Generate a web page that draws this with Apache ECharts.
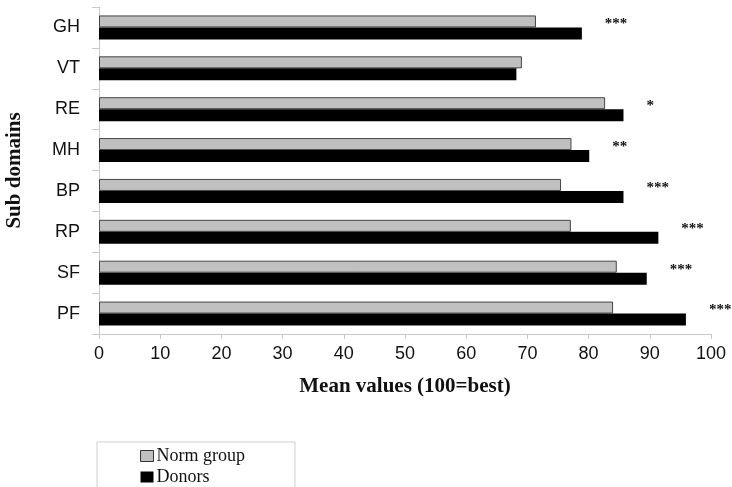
<!DOCTYPE html>
<html>
<head>
<meta charset="utf-8">
<script src="https://cdn.jsdelivr.net/npm/echarts@6/dist/echarts.min.js"></script>
<style>
  html, body { margin: 0; padding: 0; background: #fff; }
  #chart { width: 732px; height: 487px; }
</style>
</head>
<body>
<div id="chart"></div>
<script>
// SF-36 sub domains, top to bottom
const domains = ['GH', 'VT', 'RE', 'MH', 'BP', 'RP', 'SF', 'PF'];
const normGroup = [71.4, 69.1, 82.7, 77.2, 75.5, 77.1, 84.6, 84.0];
const donors    = [78.9, 68.2, 85.7, 80.1, 85.7, 91.4, 89.5, 95.9];
// significance markers shown after the donor bars
const significance = ['***', '', '*', '**', '***', '***', '***', '***'];
const xTicks = [0, 10, 20, 30, 40, 50, 60, 70, 80, 90, 100];

const chart = echarts.init(document.getElementById('chart'), null, { renderer: 'canvas' });

const axisGray = '#c8c8c8';

chart.setOption({
  backgroundColor: '#fff',
  animation: false,
  grid: { left: 99, right: 21, top: 7, bottom: 153, containLabel: false, outerBoundsMode: 'none' },
  legend: {
    orient: 'vertical',
    left: 97,
    top: 442,
    height: 60,
    padding: [5, 50, 8, 43],
    itemGap: 3,
    itemWidth: 13,
    itemHeight: 11,
    borderColor: '#cfcfcf',
    borderWidth: 1,
    textStyle: { fontFamily: 'Liberation Serif', fontSize: 18, color: '#111', padding: [0, 0, 0, -2] },
    data: [
      { name: 'Norm group', icon: 'rect', itemStyle: { color: '#c0c0c0', borderColor: '#333', borderWidth: 1 } },
      { name: 'Donors', icon: 'rect', itemStyle: { color: '#000' } }
    ]
  },
  xAxis: {
    type: 'value',
    min: xTicks[0],
    max: xTicks[xTicks.length - 1],
    interval: xTicks[1] - xTicks[0],
    name: 'Mean values (100=best)',
    nameLocation: 'middle',
    nameGap: 42,
    nameTextStyle: { fontFamily: 'Liberation Serif', fontWeight: 'bold', fontSize: 21, color: '#111' },
    axisLine: { show: true, lineStyle: { color: axisGray, width: 1 } },
    axisTick: { show: true, length: 5, lineStyle: { color: axisGray } },
    axisLabel: { fontFamily: 'Liberation Sans', fontSize: 18, color: '#111', margin: 11 },
    splitLine: { show: false }
  },
  yAxis: {
    type: 'category',
    data: domains,
    inverse: true,
    name: 'Sub domains',
    nameLocation: 'middle',
    nameGap: 74,
    nameRotate: 90,
    nameTextStyle: { fontFamily: 'Liberation Serif', fontWeight: 'bold', fontSize: 21, color: '#111' },
    axisLine: { show: true, lineStyle: { color: axisGray, width: 1 } },
    axisTick: { show: true, length: 7, alignWithLabel: false, lineStyle: { color: axisGray } },
    axisLabel: { fontFamily: 'Liberation Sans', fontSize: 18, color: '#111', margin: 19 }
  },
  series: [
    {
      name: 'Norm group',
      type: 'bar',
      data: normGroup,
      barWidth: 12,
      barGap: '0%',
      itemStyle: { color: '#c0c0c0', borderColor: '#444', borderWidth: 1 }
    },
    {
      name: 'Donors',
      type: 'bar',
      data: donors,
      barWidth: 12,
      itemStyle: { color: '#000' },
      label: {
        show: true,
        position: 'right',
        offset: [18, -9],
        fontFamily: 'Liberation Serif',
        fontWeight: 'bold',
        fontSize: 15,
        color: '#111',
        formatter: p => significance[p.dataIndex]
      }
    }
  ]
});
</script>
</body>
</html>
